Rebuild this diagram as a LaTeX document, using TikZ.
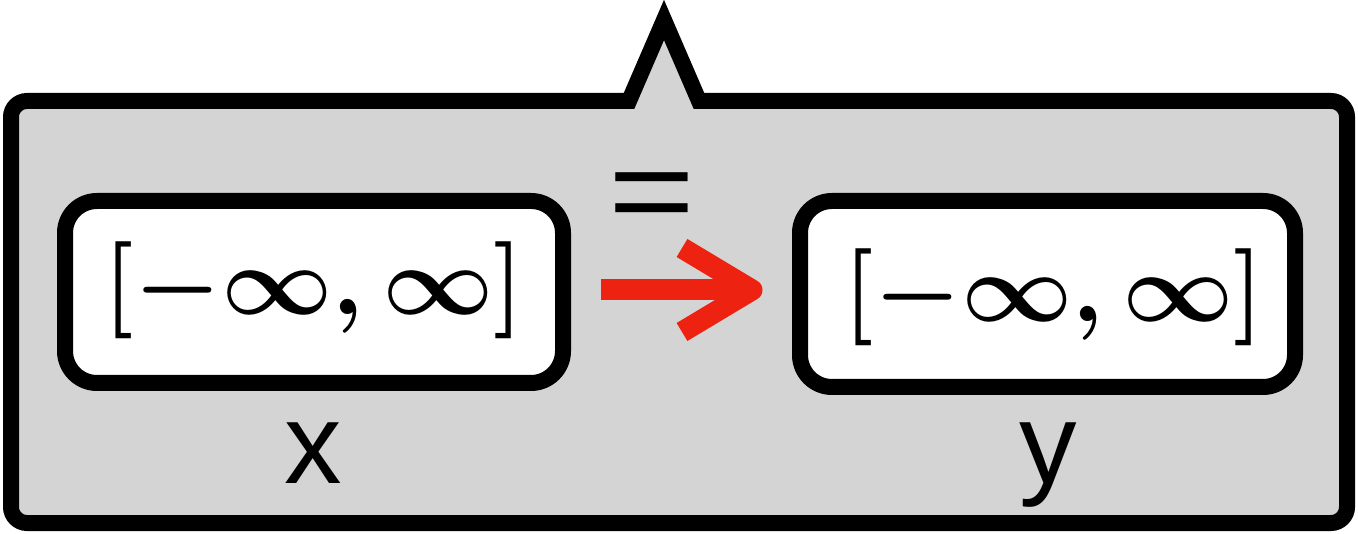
\RequirePackage{fix-cm}
\documentclass[tikz,border=0pt]{standalone}
\usepackage{fontspec}
\newfontfamily\labelfont{Liberation Sans}
\usetikzlibrary{calc}
\definecolor{panelgray}{RGB}{212,212,212}
\definecolor{arrowred}{RGB}{238,34,16}
\begin{document}
\begin{tikzpicture}[x=1pt, y=-1pt,
  panel/.style={draw=black, fill=panelgray, line width=16pt},
  valbox/.style={draw=black, fill=white, line width=16pt, rounded corners=32pt, inner sep=0pt},
  valtext/.style={font=\fontsize{97}{100}\selectfont\boldmath, inner sep=0pt},
  varlabel/.style={font=\labelfont\fontsize{115}{120}\selectfont, inner sep=0pt},
  eqlabel/.style={font=\labelfont\fontsize{124}{130}\selectfont, inner sep=0pt},
  flow/.style={draw=arrowred, line width=21pt}]
\useasboundingbox (0,0) rectangle (1358,534);

% outer panel with the pointer on its top edge
\draw[panel] (699,101) -- (1331,101) arc[start angle=90, end angle=0, radius=16pt]
  -- (1347,507) arc[start angle=0, end angle=-90, radius=16pt]
  -- (27,523) arc[start angle=270, end angle=180, radius=16pt]
  -- (11,117) arc[start angle=180, end angle=90, radius=16pt]
  -- (629,101) -- (664,20) -- cycle;

% value boxes
\node[valbox, minimum width=498pt, minimum height=182pt] (lbox) at (314,292) {};
\node[valbox, minimum width=495pt, minimum height=186pt] (rbox) at (1047.5,294) {};
\node[valtext] (lval) at (314,290) {$[-\infty,\infty]$};
\node[valtext] (rval) at (1054,297) {$[-\infty,\infty]$};

% variable names
\node[varlabel, anchor=base] (xlabel) at (313,483) {x};
\node[varlabel, anchor=base] (ylabel) at (1048,483) {y};

% equality flow from x to y
\node[eqlabel] (eq) at (652,203) {\scalebox{1.2}[1]{=}};
\coordinate (tail) at ([xshift=30pt, yshift=2pt]lbox.east);
\coordinate (tipbase) at (tail -| rbox.west);
\coordinate (tip) at ([xshift=-40pt]tipbase);
\draw[flow] (tail) -- (tip);
\draw[flow, line join=round] ($(tip)+(-70,-42)$) -- (tip) -- ($(tip)+(-70,42)$);
\end{tikzpicture}
\end{document}
